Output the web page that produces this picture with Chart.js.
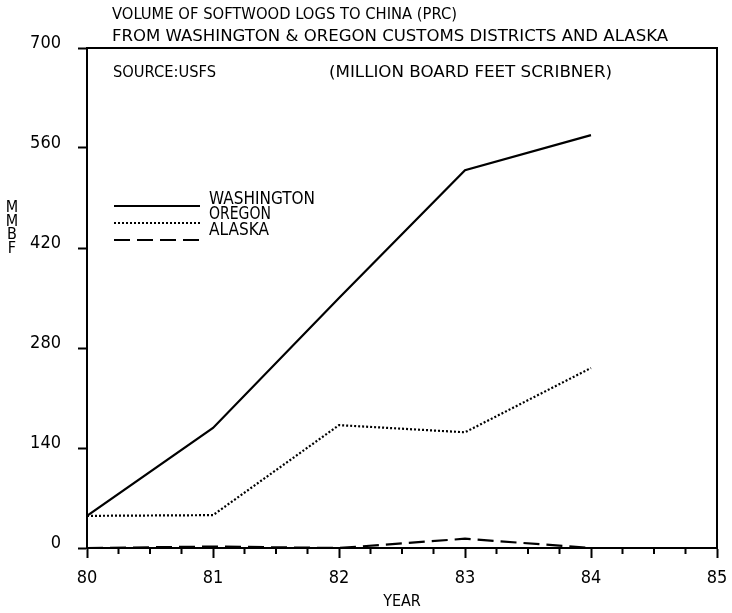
<!DOCTYPE html>
<html>
<head>
<meta charset="utf-8">
<script src="https://cdn.jsdelivr.net/npm/chart.js@4"></script>
<style>
  html, body { margin: 0; padding: 0; background: #fff; }
  #wrap { width: 732px; height: 613px; }
</style>
</head>
<body>
<div id="wrap"><canvas id="chart" width="732" height="613"></canvas></div>
<script>
// data (million board feet, Scribner)
const years = [80, 81, 82, 83, 84];
const washington = [45, 168, 350, 529, 578];
const oregon = [45, 46, 172, 162, 252];
const alaska = [0, 2, 0, 13, 0];
const yTicks = [0, 140, 280, 420, 560, 700];

const FONT = '"DejaVu Sans Condensed", "Liberation Sans Narrow", "DejaVu Sans Mono", sans-serif';

function toPoints(vals) {
    return years.map(function(yr, i) { return { x: yr, y: vals[i] }; });
}

// stretch a text line so it spans the same width as on the plotter sheet
function fitText(ctx, text, x, y, width) {
    const w = ctx.measureText(text).width;
    ctx.save();
    ctx.translate(x, y);
    ctx.scale(width / w, 1);
    ctx.fillText(text, 0, 0);
    ctx.restore();
}

// frame, minor ticks, notes, legend and the stacked MMBF label
const extras = {
    id: 'extras',
    afterDraw(chart) {
        const ctx = chart.ctx;
        const a = chart.chartArea;
        const xs = chart.scales.x;
        ctx.save();
        ctx.strokeStyle = '#000';
        ctx.lineWidth = 2;
        // top + right side of the frame
        ctx.beginPath();
        ctx.moveTo(a.left, a.top);
        ctx.lineTo(a.right, a.top);
        ctx.lineTo(a.right, a.bottom);
        ctx.stroke();

        // minor ticks on the year axis
        ctx.beginPath();
        for (let v = 80; v < 85; v += 0.25) {
            if (Number.isInteger(v)) continue;
            const px = xs.getPixelForValue(v);
            ctx.moveTo(px, a.bottom);
            ctx.lineTo(px, a.bottom + 6);
        }
        ctx.stroke();

        ctx.fillStyle = '#000';
        ctx.textBaseline = 'middle';
        ctx.textAlign = 'left';
        ctx.font = '16px ' + FONT;
        fitText(ctx, 'VOLUME OF SOFTWOOD LOGS TO CHINA (PRC)', 112, 15, 345);
        fitText(ctx, 'FROM WASHINGTON & OREGON CUSTOMS DISTRICTS AND ALASKA', 112, 37, 556);
        fitText(ctx, 'SOURCE:USFS', 113, 73, 103);
        fitText(ctx, '(MILLION BOARD FEET SCRIBNER)', 329, 73, 283);

        // legend
        const rows = [206, 223, 240];
        const texts = [200, 215, 231];
        const widths = [106, 62, 60];
        ctx.font = '17px ' + FONT;
        chart.data.datasets.forEach(function(ds, i) {
            ctx.setLineDash(ds.borderDash || []);
            ctx.lineWidth = 2;
            ctx.beginPath();
            ctx.moveTo(114, rows[i]);
            ctx.lineTo(200, rows[i]);
            ctx.stroke();
            ctx.setLineDash([]);
            fitText(ctx, ds.label, 209, texts[i], widths[i]);
        });

        // vertical MMBF
        ctx.textAlign = 'center';
        ctx.font = '16px ' + FONT;
        ['M', 'M', 'B', 'F'].forEach(function(ch, i) {
            ctx.fillText(ch, 12, 208 + i * 13.5);
        });
        ctx.restore();
    }
};

new Chart(document.getElementById('chart'), {
    type: 'line',
    data: {
        datasets: [
            { label: 'WASHINGTON', data: toPoints(washington), borderColor: '#000', borderWidth: 2.2, pointRadius: 0, tension: 0 },
            { label: 'OREGON', data: toPoints(oregon), borderColor: '#000', borderWidth: 2.2, borderDash: [2, 2], pointRadius: 0, tension: 0 },
            { label: 'ALASKA', data: toPoints(alaska), borderColor: '#000', borderWidth: 2.2, borderDash: [16, 7], pointRadius: 0, tension: 0 }
        ]
    },
    options: {
        responsive: false,
        animation: false,
        layout: { padding: { top: 48, right: 15, left: 0, bottom: 0 } },
        plugins: {
            legend: { display: false },
            tooltip: { enabled: false }
        },
        scales: {
            x: {
                type: 'linear',
                min: 80,
                max: 85,
                afterFit(scale) {
                    scale.height = 65;
                    scale.paddingLeft = 0;
                    scale.paddingRight = 0;
                },
                ticks: { stepSize: 1, color: '#000', padding: 10, font: { family: FONT, size: 18 }, maxRotation: 0 },
                grid: { drawOnChartArea: false, drawTicks: true, tickLength: 10, tickWidth: 2, tickColor: '#000' },
                border: { display: true, color: '#000', width: 2 },
                title: { display: true, text: 'YEAR', color: '#000', font: { family: FONT, size: 16 }, padding: { top: 0, bottom: 2 } }
            },
            y: {
                min: 0,
                max: 700,
                afterFit(scale) {
                    scale.width = 87;
                    scale.paddingTop = 0;
                    scale.paddingBottom = 0;
                },
                afterBuildTicks(scale) { scale.ticks = yTicks.map(function(v) { return { value: v }; }); },
                ticks: { color: '#000', padding: 17, labelOffset: -5, font: { family: FONT, size: 18 } },
                grid: { drawOnChartArea: false, drawTicks: true, tickLength: 9, tickWidth: 2, tickColor: '#000' },
                border: { display: true, color: '#000', width: 2 }
            }
        }
    },
    plugins: [extras]
});
</script>
</body>
</html>
